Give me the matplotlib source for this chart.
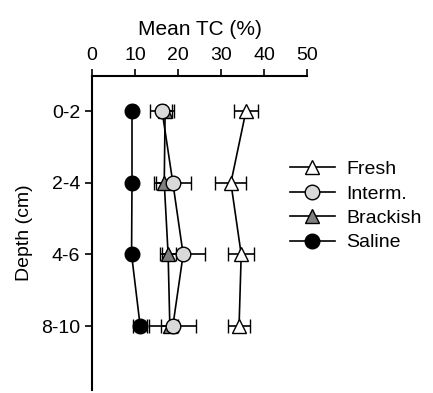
import matplotlib.pyplot as plt
import numpy as np

plt.rcParams['font.family'] = ['Liberation Sans', 'DejaVu Sans']

depths = ['0-2', '2-4', '4-6', '8-10']
fresh = [35.8, 32.3, 34.7, 34.2]
fresh_err = [2.8, 3.6, 3.0, 2.5]
interm = [16.3, 18.8, 21.2, 18.8]
interm_err = [2.7, 4.3, 5.0, 5.5]
brackish = [17.0, 16.8, 17.7, 18.1]
brackish_err = [1.5, 2.0, 1.8, 2.0]
saline = [9.3, 9.3, 9.2, 11.2]
saline_err = [0.8, 0.8, 0.6, 1.6]

ypos = np.arange(1, len(depths) + 1)

fig = plt.figure(figsize=(4.33, 3.93), dpi=100)
ax = fig.add_axes([0.2125, 0.008, 0.4965, 0.7986])

styles = [
    ('Fresh', fresh, fresh_err, '^', 'white', 10.5),
    ('Interm.', interm, interm_err, 'o', '#d9d9d9', 10.5),
    ('Brackish', brackish, brackish_err, '^', '#808080', 10.5),
    ('Saline', saline, saline_err, 'o', 'black', 10.5),
]
# draw in reverse so Fresh stays on top
handles = {}
for name, vals, err, mk, fc, ms in reversed(styles):
    h = ax.errorbar(vals, ypos, xerr=err, color='black', lw=1.2, marker=mk,
                    mfc=fc, mec='black', mew=1.0, ms=ms, capsize=5,
                    elinewidth=1.2, capthick=1.2, label=name)
    handles[name] = h

ax.set_xlim(0, 50)
ax.set_ylim(4.89, 0.51)
ax.set_xticks(np.arange(0, 51, 10))
ax.set_yticks(ypos)
ax.set_yticklabels(depths)
ax.xaxis.tick_top()
ax.xaxis.set_label_position('top')
ax.set_xlabel('Mean TC (%)', fontsize=15, labelpad=9)
ax.set_ylabel('Depth (cm)', fontsize=14, labelpad=6)
ax.tick_params(labelsize=14, width=1.2, length=5, direction='out')
ax.spines['right'].set_visible(False)
ax.spines['bottom'].set_visible(False)
ax.spines['left'].set_linewidth(1.5)
ax.spines['top'].set_linewidth(1.5)

order = ['Fresh', 'Interm.', 'Brackish', 'Saline']
leg = ax.legend([handles[n][0] for n in order], order, loc='center left',
                bbox_to_anchor=(0.92, 0.586), frameon=False, fontsize=14,
                handlelength=2.3, labelspacing=0.35, handletextpad=0.6,
                borderpad=0, borderaxespad=0)

fig.savefig('out.png', dpi=100)
